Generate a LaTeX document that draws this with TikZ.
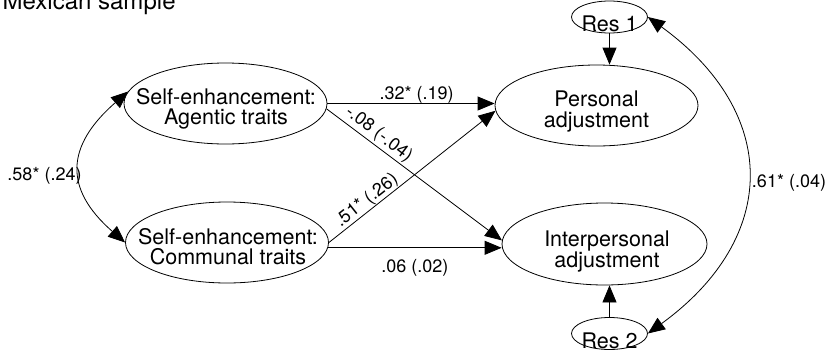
\documentclass[tikz,border=0pt]{standalone}
\usepackage{fontspec}
\setmainfont{TeX Gyre Heros}
\usetikzlibrary{shapes.geometric,arrows.meta,calc}
\begin{document}
\begin{tikzpicture}[x=1pt,y=-1pt,
  every node/.style={inner sep=0pt},
  ell/.style={draw, ellipse, line width=0.8pt, minimum width=203pt, minimum height=81pt},
  resell/.style={draw, ellipse, line width=0.8pt, minimum width=76pt, minimum height=32pt},
  eltext/.style={font=\fontsize{21.5}{20.5}\selectfont, align=center},
  lab/.style={font=\fontsize{18}{19}\selectfont},
  arr/.style={line width=0.8pt, -{Triangle[length=17pt,width=14pt]}},
  dbl/.style={line width=0.8pt, {Triangle[length=17pt,width=14pt]}-{Triangle[length=17pt,width=14pt]}},
]
\useasboundingbox (0,0) rectangle (832,351);

\node[font=\fontsize{24}{26}\selectfont, anchor=base west] (title) at (2.5,9) {Mexican sample};

\node[ell] (ag) at (225.5,103.5) {};
\node[eltext] (agt) at (226,108.6) {Self-enhancement:\\Agentic traits};
\node[ell] (co) at (227,242.5) {};
\node[eltext] (cot) at (228,246.5) {Self-enhancement:\\Communal traits};
\node[ell] (pa) at (596.5,105.5) {};
\node[eltext] (pat) at (596.5,111.7) {Personal\\adjustment};
\node[ell, minimum width=205pt, minimum height=82pt] (ip) at (604.5,244) {};
\node[eltext] (ipt) at (607,251.3) {Interpersonal\\adjustment};
\node[resell] (r1) at (609.5,17) {};
\node[eltext, anchor=base] (r1t) at (609.5,31) {Res 1};
\node[resell] (r2) at (609.5,333.5) {};
\node[eltext, anchor=base] (r2t) at (609.5,348) {Res 2};

\draw[arr] (ag.east) -- (ag.east -| pa.west)
  node[lab, pos=0.533, above=0pt] (l1) {.32* (.19)};
\draw[arr] (ag.-3) -- (ip.178)
  node[lab, pos=0.26, above=2pt, sloped] (l2) {-.08 (-.04)};
\draw[arr] (co.east) -- (pa.183)
  node[lab, pos=0.263, above=0.5pt, sloped] (l3) {.51* (.26)};
\draw[arr] (co.-3) -- (co.-3 -| ip.west)
  node[lab, pos=0.5, below=11pt] (l4) {.06 (.02)};

\draw[arr] (r1.south) -- (r1.south |- pa.north);
\draw[arr] (r2.north) -- (r2.north |- ip.south);

\draw[dbl] (ag.173) .. controls +(-62,54) and +(-62,-54) .. (co.west);
\node[lab] (l5) at (44.5,176) {.58* (.24)};

\draw[dbl] (r1.east) .. controls +(132,96) and +(132,-96) .. (r2.east);
\node[lab] (l6) at (789,183) {.61* (.04)};
\end{tikzpicture}
\end{document}
